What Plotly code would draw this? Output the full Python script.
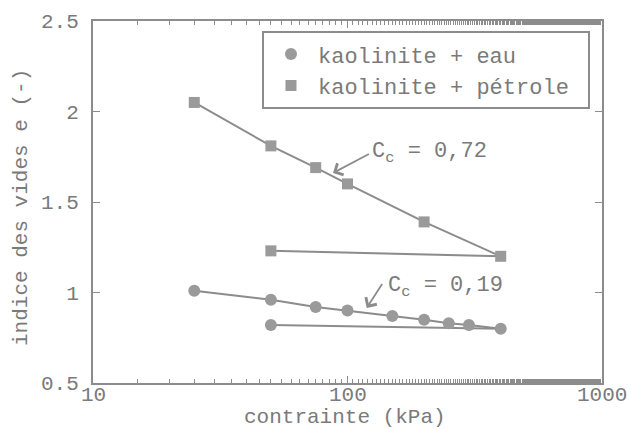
import math
import plotly.graph_objects as go

# kaolinite + eau (chargement puis déchargement)
eau_sigma = [25, 50, 75, 100, 150, 200, 250, 300, 400]
eau_e = [1.01, 0.96, 0.92, 0.90, 0.87, 0.85, 0.83, 0.82, 0.80]
eau_unload_sigma = [50, 400]
eau_unload_e = [0.82, 0.80]

# kaolinite + pétrole
pet_sigma = [25, 50, 75, 100, 200, 400]
pet_e = [2.05, 1.81, 1.69, 1.60, 1.39, 1.20]
pet_unload_sigma = [50, 400]
pet_unload_e = [1.23, 1.20]

x_ticks = [10, 100, 1000]
y_ticks = [0.5, 1, 1.5, 2, 2.5]
y_labels = ["0.5", "1", "1.5", "2", "2.5"]

GREY = "#8c8c8c"
MK = "#9a9a9a"
TXT = "#7a7a7a"
FONT = "Liberation Mono, Courier New, monospace"

fig = go.Figure()

# lignes (sans légende)
for xs, ys in [(eau_sigma, eau_e), (eau_unload_sigma, eau_unload_e),
               (pet_sigma, pet_e), (pet_unload_sigma, pet_unload_e)]:
    fig.add_trace(go.Scatter(x=xs, y=ys, mode="lines", showlegend=False,
                             line=dict(color=GREY, width=2), hoverinfo="skip"))

# points
fig.add_trace(go.Scatter(
    x=eau_sigma + eau_unload_sigma[:1], y=eau_e + eau_unload_e[:1],
    mode="markers", name="kaolinite + eau",
    marker=dict(symbol="circle", size=12, color=MK),
))
fig.add_trace(go.Scatter(
    x=pet_sigma + pet_unload_sigma[:1], y=pet_e + pet_unload_e[:1],
    mode="markers", name="kaolinite + pétrole\u00a0",
    marker=dict(symbol="square", size=11, color=MK),
))

# flèches + textes Cc
for head, tail, txt_pos, label in [
    ((87.7, 1.66), (123, 1.77), (123, 1.77), "C<sub>c</sub> = 0,72"),
    ((119, 0.915), (138, 1.055), (142, 1.03), "C<sub>c</sub> = 0,19"),
]:
    fig.add_annotation(
        x=math.log10(head[0]), y=head[1],
        ax=math.log10(tail[0]), ay=tail[1],
        xref="x", yref="y", axref="x", ayref="y",
        text="", showarrow=True, arrowhead=4, arrowsize=1.4,
        arrowwidth=1.8, arrowcolor=GREY,
    )
    fig.add_annotation(
        x=math.log10(txt_pos[0]), y=txt_pos[1],
        xref="x", yref="y", text=label, showarrow=False,
        xanchor="left", yanchor="middle",
        font=dict(family=FONT, size=22, color=TXT),
    )

# étiquettes de l'axe x (placées à la main pour coller au graphe d'origine)
for v in x_ticks:
    fig.add_annotation(
        x=math.log10(v), y=0, xref="x", yref="paper", yanchor="middle",
        yshift=-12, showarrow=False, text=str(v),
        font=dict(family=FONT, size=21, color=TXT),
    )

# titres des axes
fig.add_annotation(
    x=0.5, y=0, xref="paper", yref="paper", yanchor="middle",
    yshift=-34, xshift=-3, showarrow=False, text="contrainte (kPa)",
    font=dict(family=FONT, size=21, color=TXT),
)
fig.add_annotation(
    x=0, y=0.5, xref="paper", yref="paper", xanchor="center",
    xshift=-72, yshift=-6, textangle=-90, showarrow=False,
    text="indice des vides e (-)",
    font=dict(family=FONT, size=21, color=TXT),
)

fig.update_layout(
    width=629, height=429,
    margin=dict(l=93, r=27, t=21, b=46),
    paper_bgcolor="white", plot_bgcolor="white",
    font=dict(family=FONT, size=21, color=TXT),
    showlegend=True,
    legend=dict(
        x=0.332, y=0.972, xanchor="left", yanchor="top",
        bgcolor="white", bordercolor=GREY, borderwidth=2,
        font=dict(family=FONT, size=22, color=TXT),
        itemwidth=44, tracegroupgap=0,
    ),
)

fig.update_xaxes(
    type="log", range=[1, 3], automargin=False, showticklabels=False,
    ticks="inside", ticklen=7, tickcolor=GREY, tickvals=x_ticks,
    minor=dict(ticks="inside", ticklen=4, tickcolor=GREY, showgrid=False),
    showline=True, linecolor=GREY, linewidth=2, mirror="ticks",
    showgrid=False, zeroline=False,
)
fig.update_yaxes(
    range=[0.5, 2.5], automargin=False,
    tickvals=y_ticks, ticktext=y_labels,
    ticks="inside", ticklen=7, tickcolor=GREY, ticklabelstandoff=8,
    showline=True, linecolor=GREY, linewidth=2, mirror="ticks",
    showgrid=False, zeroline=False,
    tickfont=dict(family=FONT, size=21, color=TXT),
)

# pas de marge de page : le graphe occupe toute la fenêtre
fig.write_html("out.html",
               config={"displayModeBar": False},
               post_script="document.body.style.margin='0';"
                           "document.body.style.overflow='hidden';")
